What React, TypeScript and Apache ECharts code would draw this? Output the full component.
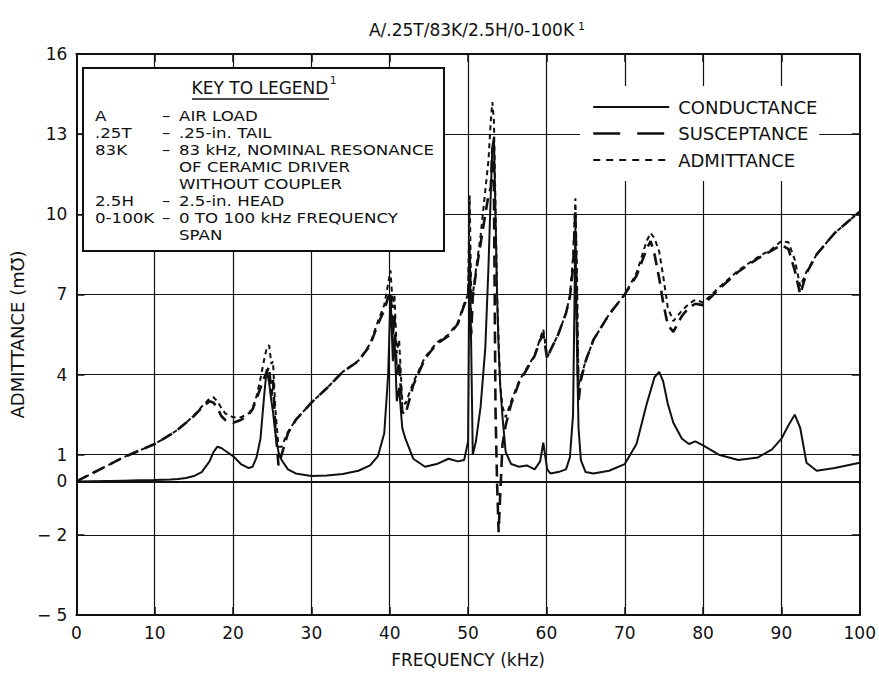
import React, { useEffect, useRef } from "react";
import * as echarts from "echarts";

// ---- data ----
const FREQ = [
  0, 2, 4, 6, 8, 10, 12, 13, 14, 15, 16, 17, 17.5, 18, 18.5, 19, 20, 21, 22, 22.5,
  23, 23.5, 24, 24.3, 24.6, 24.9, 25.1, 25.4, 25.8, 26.2, 27, 28, 30, 32, 34, 36, 37.5, 38.5, 39.3, 39.8,
  40.1, 40.4, 40.6, 40.9, 41.2, 41.6, 42, 43, 44.5, 46, 47.5, 48.7, 49.5, 50, 50.2, 50.4, 50.6, 51, 51.6, 52.2,
  52.6, 52.9, 53.1, 53.3, 53.5, 53.7, 53.9, 54.1, 54.4, 54.8, 55.5, 56.5, 57.5, 58.5, 59.2, 59.6, 60.1, 60.5, 61.5, 62.5,
  63, 63.4, 63.7, 63.9, 64.1, 64.4, 65, 66, 68, 70, 71.5, 72.8, 73.3, 73.8, 74.4, 74.9, 75.5, 76.2, 77.3, 78.2,
  79, 80, 82, 84.5, 87, 88.8, 90, 90.9, 91.7, 92.4, 93.2, 94.5, 96.8, 100,
];

const CONDUCTANCE = [
  0, 0.01, 0.02, 0.03, 0.04, 0.05, 0.07, 0.09, 0.13, 0.2, 0.35, 0.75, 1.1, 1.3, 1.25, 1.15, 0.95, 0.65, 0.5, 0.55,
  0.9, 1.6, 3.3, 4.2, 3.7, 3.0, 2.6, 1.8, 1.1, 0.8, 0.45, 0.3, 0.2, 0.22, 0.28, 0.4, 0.6, 0.95, 1.8, 4.0,
  7.0, 4.5, 5.5, 3.0, 3.5, 2.0, 1.6, 0.85, 0.55, 0.65, 0.85, 0.75, 0.8, 1.5, 8.9, 5.0, 1.0, 1.5, 2.8, 5.0,
  8.0, 10.8, 12.5, 12.9, 10.0, 7.0, 5.0, 3.6, 2.4, 1.1, 0.65, 0.55, 0.6, 0.45, 0.75, 1.45, 0.45, 0.3, 0.35, 0.45,
  0.9, 2.5, 9.5, 5.0, 2.0, 0.8, 0.35, 0.3, 0.4, 0.65, 1.4, 2.9, 3.4, 3.9, 4.1, 3.75, 2.9, 2.2, 1.6, 1.4,
  1.5, 1.35, 1.0, 0.8, 0.9, 1.2, 1.6, 2.1, 2.5, 2.0, 0.7, 0.4, 0.5, 0.7,
];

const SUSCEPTANCE = [
  0, 0.3, 0.6, 0.9, 1.15, 1.4, 1.75, 1.95, 2.2, 2.45, 2.75, 3.0, 2.95, 2.75, 2.45, 2.3, 2.2, 2.3, 2.5, 2.7,
  3.1, 3.5, 3.9, 4.1, 4.3, 3.2, 3.8, 2.0, 0.6, 1.0, 1.8, 2.3, 2.95, 3.5, 4.1, 4.5, 5.1, 5.9, 6.4, 6.9,
  7.1, 5.5, 6.2, 4.0, 4.5, 2.6, 2.5, 3.6, 4.6, 5.15, 5.45, 5.9, 6.6, 6.9, 8.5, 5.5, 6.9, 7.8, 8.9, 10.0,
  10.7, 11.0, 12.5, 11.0, 2.7, 0.0, -1.9, -0.5, 1.4, 2.1, 2.9, 3.7, 4.2, 4.7, 5.3, 5.5, 4.6, 4.9, 5.5, 6.3,
  6.9, 8.0, 10.2, 6.0, 3.0, 3.8, 4.5, 5.3, 6.25, 7.0, 7.7, 8.7, 9.0, 8.5, 7.6, 6.7, 5.85, 5.6, 6.2, 6.5,
  6.65, 6.6, 7.2, 7.85, 8.35, 8.65, 8.85, 8.7, 7.9, 7.0, 7.8, 8.5, 9.3, 10.1,
];

const ADMITTANCE = [
  0, 0.3, 0.6, 0.9, 1.15, 1.4, 1.75, 1.95, 2.2, 2.46, 2.8, 3.1, 3.15, 3.0, 2.75, 2.55, 2.4, 2.4, 2.55, 2.75,
  3.2, 3.85, 4.6, 5.0, 5.1, 4.4, 4.5, 2.7, 1.3, 1.3, 1.85, 2.3, 2.95, 3.5, 4.1, 4.52, 5.15, 6.0, 6.6, 7.4,
  7.9, 6.5, 7.0, 4.8, 5.3, 3.0, 2.9, 3.7, 4.65, 5.2, 5.5, 5.95, 6.65, 7.0, 10.7, 7.0, 7.0, 7.9, 9.2, 10.9,
  12.0, 13.5, 14.2, 13.5, 10.3, 7.0, 5.3, 3.6, 2.8, 2.4, 3.0, 3.75, 4.25, 4.72, 5.35, 5.7, 4.65, 4.9, 5.5, 6.3,
  6.95, 8.4, 10.6, 7.8, 3.6, 3.9, 4.5, 5.3, 6.25, 7.0, 7.8, 9.0, 9.3, 9.1, 8.6, 7.7, 6.5, 6.0, 6.4, 6.65,
  6.8, 6.7, 7.25, 7.9, 8.4, 8.7, 9.0, 8.95, 8.3, 7.3, 7.85, 8.5, 9.3, 10.1,
];

const Y_TICKS = [-5, -2, 0, 1, 4, 7, 10, 13, 16];
const Y_GRID = [-2, 0, 1, 4, 7, 10, 13];

const KEY_ABBR = ["A", ".25T", "83K", "", "", "2.5H", "0-100K", ""];
const KEY_DESC = [
  "AIR LOAD",
  ".25-in. TAIL",
  "83 kHz, NOMINAL RESONANCE",
  "OF CERAMIC DRIVER",
  "WITHOUT COUPLER",
  "2.5-in. HEAD",
  "0 TO 100 kHz FREQUENCY",
  "SPAN",
];

const TITLE = "A/.25T/83K/2.5H/0-100K";
const SERIES_NAMES = ["CONDUCTANCE", "SUSCEPTANCE", "ADMITTANCE"];

const INK = "#111111";
const FONT = '"DejaVu Sans", "Liberation Sans", sans-serif';

function pairs(ys: number[]) {
  return FREQ.map((f, i) => [f, ys[i]]);
}

// key rows: slightly condensed height, widened so they read like the reference's lettering
function keyText(text: string, x: number, y: number, size = 14.6, sx = 1.14, align = "left") {
  return {
    type: "text",
    z: 101,
    x,
    y,
    scaleX: sx,
    scaleY: 1,
    style: {
      text,
      fill: INK,
      fontSize: size,
      fontFamily: FONT,
      align,
      verticalAlign: "middle",
    },
  };
}

function buildOption() {
  const keyStep = 17;
  const keyTop = 116;
  const keyChildren: any[] = [
    {
      type: "rect",
      z: 100,
      shape: { x: 83, y: 68, width: 361, height: 183 },
      style: { fill: "#ffffff", stroke: INK, lineWidth: 2 },
    },
    keyText("KEY TO LEGEND", 260, 88, 17, 1, "center"),
    {
      type: "line",
      z: 101,
      shape: { x1: 192, y1: 99, x2: 329, y2: 99 },
      style: { stroke: INK, lineWidth: 1.5 },
    },
    keyText("1", 330, 80, 10, 1),
  ];
  KEY_DESC.forEach((d, i) => {
    const y = keyTop + i * keyStep;
    if (KEY_ABBR[i]) {
      keyChildren.push(keyText(KEY_ABBR[i], 95, y));
      keyChildren.push(keyText("–", 162, y));
    }
    keyChildren.push(keyText(d, 179, y));
  });

  const axisLine = { show: true, onZero: false, lineStyle: { color: INK, width: 2 } };
  const tickStyle = { color: INK, width: 1.5 };
  const hidden = { color: "rgba(0,0,0,0)", borderColor: "rgba(0,0,0,0)", borderWidth: 0, opacity: 0 };

  return {
    animation: false,
    backgroundColor: "#ffffff",
    textStyle: { fontFamily: FONT, color: INK },
    title: {
      text: "{t|" + TITLE + "}{s|1}",
      left: 472,
      top: 16,
      textAlign: "center",
      textStyle: {
        fontWeight: "normal",
        rich: {
          t: { fontSize: 17, fontFamily: FONT, color: INK, fontWeight: "normal" },
          s: { fontSize: 11, fontFamily: FONT, color: INK, fontWeight: "normal", verticalAlign: "top", padding: [0, 0, 0, 4] },
        },
      },
    },
    legend: {
      orient: "vertical",
      left: 580,
      top: 86,
      padding: [11, 2, 11, 12],
      backgroundColor: "#ffffff",
      itemWidth: 76,
      itemHeight: 20,
      itemGap: 6.5,
      z: 10,
      selectedMode: false,
      itemStyle: hidden,
      textStyle: { fontSize: 18, fontFamily: FONT, color: INK, lineHeight: 20, padding: [0, 0, 0, 4] },
      data: [
        { name: SERIES_NAMES[0], itemStyle: hidden, lineStyle: { color: INK, type: "solid", width: 2 } },
        { name: SERIES_NAMES[1], itemStyle: hidden, lineStyle: { color: INK, type: [27, 17], width: 2.4 } },
        { name: SERIES_NAMES[2], itemStyle: hidden, lineStyle: { color: INK, type: [7, 6], width: 2 } },
      ],
    },
    grid: { left: 71, right: 17, top: 54, bottom: 56 },
    xAxis: [
      {
        type: "value",
        min: 0,
        max: 100,
        interval: 10,
        position: "bottom",
        name: "FREQUENCY (kHz)",
        nameLocation: "middle",
        nameGap: 36,
        nameTextStyle: { fontSize: 17, fontFamily: FONT, color: INK },
        axisLine,
        axisTick: { show: true, inside: true, length: 8, lineStyle: tickStyle },
        axisLabel: { fontSize: 17, fontFamily: FONT, color: INK, margin: 9 },
        splitLine: { show: true, showMinLine: false, showMaxLine: false, lineStyle: { color: INK, width: 1.2 } },
      },
      {
        type: "value",
        min: 0,
        max: 100,
        interval: 10,
        position: "top",
        axisLine,
        axisTick: { show: true, inside: true, length: 8, lineStyle: tickStyle },
        axisLabel: { show: false },
        splitLine: { show: false },
      },
    ],
    yAxis: [
      {
        type: "value",
        min: -5,
        max: 16,
        interval: 1,
        position: "left",
        name: "ADMITTANCE (m℧)",
        nameLocation: "middle",
        nameRotate: 90,
        nameGap: 45,
        nameTextStyle: { fontSize: 18, fontFamily: FONT, color: INK },
        axisLine,
        axisTick: { show: true, inside: true, length: 8, lineStyle: tickStyle, customValues: Y_TICKS },
        axisLabel: {
          fontSize: 17,
          fontFamily: FONT,
          color: INK,
          margin: 9,
          customValues: Y_TICKS,
          formatter: (v: number) => (v < 0 ? "− " + Math.abs(v) : String(v)),
        },
        splitLine: { show: false },
      },
      {
        type: "value",
        min: -5,
        max: 16,
        interval: 1,
        position: "right",
        axisLine,
        axisTick: { show: true, inside: true, length: 8, lineStyle: tickStyle, customValues: Y_TICKS },
        axisLabel: { show: false },
        splitLine: { show: false },
      },
    ],
    series: [
      {
        type: "line",
        name: SERIES_NAMES[0],
        data: pairs(CONDUCTANCE),
        symbol: "none",
        showSymbol: false,
        z: 3,
        itemStyle: { color: INK },
        lineStyle: { color: INK, width: 2, type: "solid" },
        markLine: {
          silent: true,
          symbol: "none",
          animation: false,
          label: { show: false },
          lineStyle: { color: INK, width: 1.2, type: "solid" },
          data: Y_GRID.map((v) => ({ yAxis: v, lineStyle: { color: INK, width: v === 0 ? 2 : 1.2, type: "solid" } })),
        },
      },
      {
        type: "line",
        name: SERIES_NAMES[1],
        data: pairs(SUSCEPTANCE),
        symbol: "none",
        showSymbol: false,
        z: 3,
        itemStyle: { color: INK },
        lineStyle: { color: INK, width: 2.6, type: [12, 7] },
      },
      {
        type: "line",
        name: SERIES_NAMES[2],
        data: pairs(ADMITTANCE),
        symbol: "none",
        showSymbol: false,
        z: 4,
        itemStyle: { color: INK },
        lineStyle: { color: INK, width: 2, type: [5, 4] },
      },
    ],
    graphic: keyChildren,
  };
}

export default function App() {
  const ref = useRef<HTMLDivElement>(null);
  useEffect(() => {
    if (!ref.current) return;
    const chart = echarts.init(ref.current, null, { renderer: "svg" });
    chart.setOption(buildOption() as any);
    return () => chart.dispose();
  }, []);
  return (
    <div
      ref={ref}
      style={{ position: "fixed", left: 0, top: 0, width: 879, height: 673, background: "#ffffff" }}
    />
  );
}
